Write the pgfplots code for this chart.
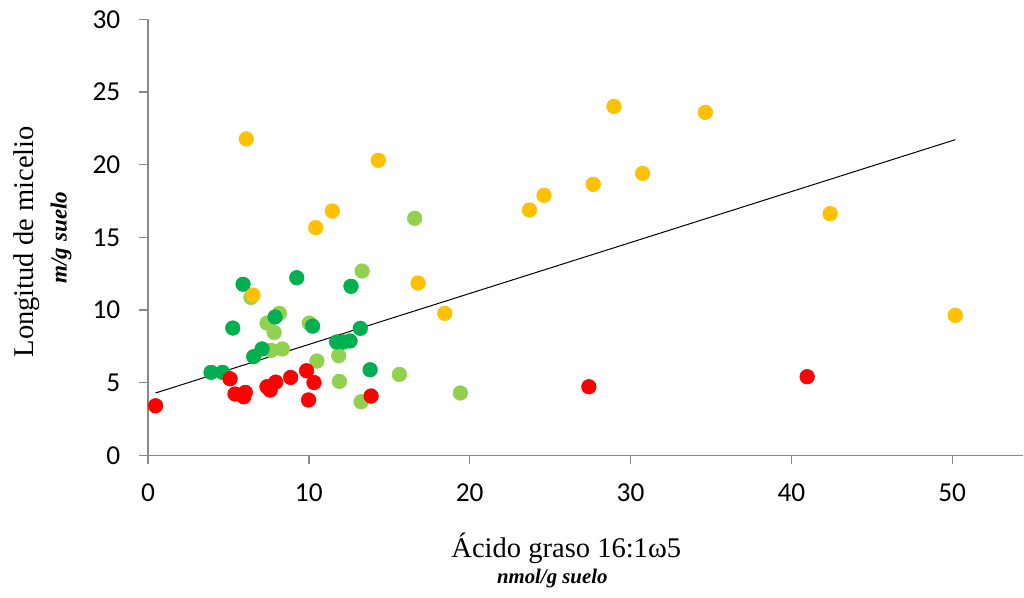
\documentclass[border=0pt]{standalone}
\usepackage{pgfplots}
\pgfplotsset{compat=1.18}
\usepackage{fontspec}
\setmainfont{Liberation Serif}
\newfontfamily\carlito{Carlito}
\definecolor{lgreen}{HTML}{92D050}
\definecolor{dgreen}{HTML}{00B050}
\definecolor{myred}{HTML}{FF0000}
\definecolor{myyellow}{HTML}{FFC000}
\definecolor{axgray}{HTML}{898989}
\begin{document}
\begin{tikzpicture}
\useasboundingbox (-111pt,-106.3pt) rectangle (657pt,341.5pt);
\begin{axis}[
 at={(0,0)}, anchor=south west,
 scale only axis, width=656.25pt, height=327pt,
 xmin=0, xmax=54.4, ymin=0, ymax=30,
 axis lines*=left,
 axis line style={axgray, line width=1.1pt},
 xtick={0,10,...,50}, ytick={0,5,...,30},
 tick align=outside, major tick length=6.75pt,
 tick style={axgray, line width=1.1pt},
 /pgf/number format/assume math mode=true,
 ticklabel style={font=\fontsize{20.5}{24}\selectfont\carlito},
 xticklabel style={yshift=-11pt},
 yticklabel style={xshift=-10.5pt},
 clip=false,
 every axis plot/.append style={only marks, mark=*, mark size=5.5pt},
]
\addplot[color=lgreen, mark options={fill=lgreen, draw=lgreen}] coordinates {
(6.4,10.87) (7.4,9.1) (8.17,9.77) (7.84,8.46) (10.03,9.1) (7.65,7.22) (8.35,7.32) (10.5,6.49)
(13.31,12.68) (11.86,6.86) (11.9,5.09) (15.63,5.57) (13.25,3.69) (19.42,4.29) (16.58,16.31)};
\addplot[color=dgreen, mark options={fill=dgreen, draw=dgreen}] coordinates {
(5.91,11.77) (9.25,12.22) (5.27,8.76) (7.9,9.52) (10.23,8.89) (7.09,7.32) (6.57,6.79) (3.92,5.71)
(4.64,5.71) (12.62,11.63) (13.2,8.74) (11.73,7.8) (12.15,7.8) (12.56,7.87) (13.81,5.89)};
\addplot[color=myred, mark options={fill=myred, draw=myred}] coordinates {
(0.47,3.41) (5.1,5.27) (5.41,4.22) (6.05,4.33) (5.95,4.03) (7.4,4.72) (7.6,4.49) (7.94,5.04)
(8.87,5.36) (9.86,5.82) (10.32,5.01) (9.98,3.81) (13.87,4.08) (27.41,4.72) (40.98,5.41)};
\addplot[color=myyellow, mark options={fill=myyellow, draw=myyellow}] coordinates {
(6.11,21.77) (6.53,11.03) (10.43,15.67) (11.46,16.81) (14.32,20.3) (16.79,11.86) (18.45,9.77)
(23.72,16.88) (24.62,17.89) (27.68,18.65) (28.97,24.01) (30.75,19.40) (34.65,23.6) (42.41,16.63) (50.19,9.63)};
\addplot[black, line width=0.75pt, no marks, sharp plot] coordinates {(0.47,4.29) (50.19,21.72)};
\node[anchor=base, font=\fontsize{21.4}{25}\selectfont] at ([yshift=-76.3pt]axis description cs:0.478,0) {Ácido graso 16:1ω5};
\node[anchor=base, font=\fontsize{15.6}{19}\selectfont\bfseries\itshape] at ([yshift=-95.8pt]axis description cs:0.462,0) {nmol/g suelo};
\node[anchor=base, rotate=90, font=\fontsize{21.4}{25}\selectfont] at ([xshift=-86pt]axis description cs:0,0.49) {Longitud de micelio};
\node[anchor=base, rotate=90, font=\fontsize{17.3}{20}\selectfont\bfseries\itshape] at ([xshift=-61pt]axis description cs:0,0.4995) {m/g suelo};
\end{axis}
\end{tikzpicture}
\end{document}
